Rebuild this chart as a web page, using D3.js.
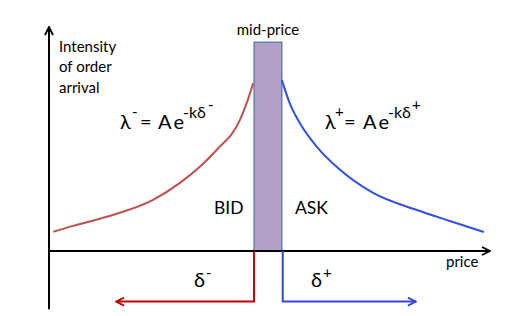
<!DOCTYPE html>
<html>
<head>
<meta charset="utf-8">
<script src="https://cdn.jsdelivr.net/npm/d3@7"></script>
<style>
  body { margin: 0; background: #fff; }
  svg text { font-family: Lato, "DejaVu Sans", sans-serif; fill: #000; }
</style>
</head>
<body>
<div id="chart"></div>
<script>
// bid side (red curve), price vs intensity of order arrival
const bidPrice = [1, 5.4, 13.1, 23.6, 29.7, 34.2, 38.0, 43.3, 44.8, 46.3];
const bidIntensity = [8.6, 11.2, 15.3, 22.8, 30.4, 37.6, 45.1, 58.5, 65.9, 74.9];
// ask side (blue curve)
const askPrice = [52.8, 54.6, 56.9, 60.7, 65.6, 73.5, 83.4, 90.9, 98.6];
const askIntensity = [76.3, 65.9, 57.0, 46.6, 36.9, 25.9, 18.3, 13.4, 8.5];
// mid-price band and the two spread arrows
const midBand = [46.5, 52.8];
const midTop = 93.2;
const deltaMinus = [46.5, 15.2];
const deltaPlus = [53.0, 83.2];
const arrowLevel = -22.6;

const width = 517, height = 316;

const svg = d3.select("#chart")
  .append("svg")
  .attr("width", width)
  .attr("height", height);

const x = d3.scaleLinear().domain([0, 100]).range([49, 490]);
const y = d3.scaleLinear().domain([0, 100]).range([251, 27]);

// 箭头
const defs = svg.append("defs");
function marker(id, color) {
  defs.append("marker")
    .attr("id", id)
    .attr("viewBox", "0 0 10 10")
    .attr("refX", 9)
    .attr("refY", 5)
    .attr("markerWidth", 5)
    .attr("markerHeight", 5)
    .attr("markerUnits", "strokeWidth")
    .attr("orient", "auto")
    .append("path")
    .attr("d", "M1,1 L9,5 L1,9")
    .attr("fill", "none")
    .attr("stroke", color)
    .attr("stroke-width", 1.8);
}
marker("arrBlack", "#000");
marker("arrRed", "#c00000");
marker("arrBlue", "#3344dd");

// mid-price band
svg.append("rect")
  .attr("x", x(midBand[0]))
  .attr("y", y(midTop))
  .attr("width", x(midBand[1]) - x(midBand[0]))
  .attr("height", y(0) - y(midTop))
  .attr("fill", "#b1a0c7")
  .attr("stroke", "#4a6fa8")
  .attr("stroke-width", 1.2);

// axes
svg.append("line")
  .attr("x1", x(0)).attr("y1", y(-26))
  .attr("x2", x(0)).attr("y2", y(100))
  .attr("stroke", "#000").attr("stroke-width", 2)
  .attr("marker-end", "url(#arrBlack)");
svg.append("line")
  .attr("x1", x(0)).attr("y1", y(0))
  .attr("x2", x(100)).attr("y2", y(0))
  .attr("stroke", "#000").attr("stroke-width", 2)
  .attr("marker-end", "url(#arrBlack)");

// curves
const line = d3.line()
  .x((d) => x(d[0]))
  .y((d) => y(d[1]))
  .curve(d3.curveMonotoneX);

svg.append("path")
  .attr("d", line(d3.zip(bidPrice, bidIntensity)))
  .attr("fill", "none")
  .attr("stroke", "#c0504d")
  .attr("stroke-width", 2);
svg.append("path")
  .attr("d", line(d3.zip(askPrice, askIntensity)))
  .attr("fill", "none")
  .attr("stroke", "#3050e8")
  .attr("stroke-width", 2);

// δ arrows
const elbow = d3.line().x((d) => x(d[0])).y((d) => y(d[1]));
svg.append("path")
  .attr("d", elbow([[deltaMinus[0], 0], [deltaMinus[0], arrowLevel], [deltaMinus[1], arrowLevel]]))
  .attr("fill", "none")
  .attr("stroke", "#c00000")
  .attr("stroke-width", 2)
  .attr("marker-end", "url(#arrRed)");
svg.append("path")
  .attr("d", elbow([[deltaPlus[0], 0], [deltaPlus[0], arrowLevel], [deltaPlus[1], arrowLevel]]))
  .attr("fill", "none")
  .attr("stroke", "#3344dd")
  .attr("stroke-width", 2)
  .attr("marker-end", "url(#arrBlue)");

// labels
svg.append("text")
  .attr("x", (x(midBand[0]) + x(midBand[1])) / 2)
  .attr("y", 35)
  .attr("text-anchor", "middle")
  .attr("font-size", 15)
  .text("mid-price");

svg.append("g")
  .attr("font-size", 15)
  .selectAll("text")
  .data(["Intensity", "of order", "arrival"])
  .join("text")
  .attr("x", 59)
  .attr("y", (d, i) => 52 + i * 20.3)
  .text((d) => d);

svg.append("text").attr("x", 214).attr("y", 214).attr("font-size", 17.5).text("BID");
svg.append("text").attr("x", 295).attr("y", 214).attr("font-size", 17.5).text("ASK");
svg.append("text").attr("x", 446).attr("y", 267).attr("font-size", 15).text("price");

function deltaLabel(x0, sign) {
  const t = svg.append("text").attr("x", x0).attr("y", 287).attr("font-size", 20);
  t.append("tspan").text("δ");
  t.append("tspan").attr("dx", 1).attr("dy", -9).attr("font-size", 15).text(sign);
}
deltaLabel(194, "-");
deltaLabel(311, "+");

// λ = A e^{-kδ}，每个部分按原图位置摆放
function formula(xs, sign) {
  const t = svg.append("text").attr("y", 129).attr("font-size", 20);
  t.append("tspan").attr("x", xs[0]).text("λ");
  t.append("tspan").attr("x", xs[1]).attr("y", 117).attr("font-size", 15).text(sign);
  t.append("tspan").attr("x", xs[2]).attr("y", 129).text("=");
  t.append("tspan").attr("x", xs[3]).text("A");
  t.append("tspan").attr("x", xs[4]).text("e");
  t.append("tspan").attr("x", xs[5]).attr("y", 118).attr("font-size", 16).text("-kδ");
  t.append("tspan").attr("x", xs[6]).attr("y", 110).attr("font-size", 15).text(sign);
}
formula([120, 132, 140, 158, 173.5, 183, 208], "-");
formula([325, 335, 344, 363, 378.5, 388, 412], "+");
</script>
</body>
</html>
